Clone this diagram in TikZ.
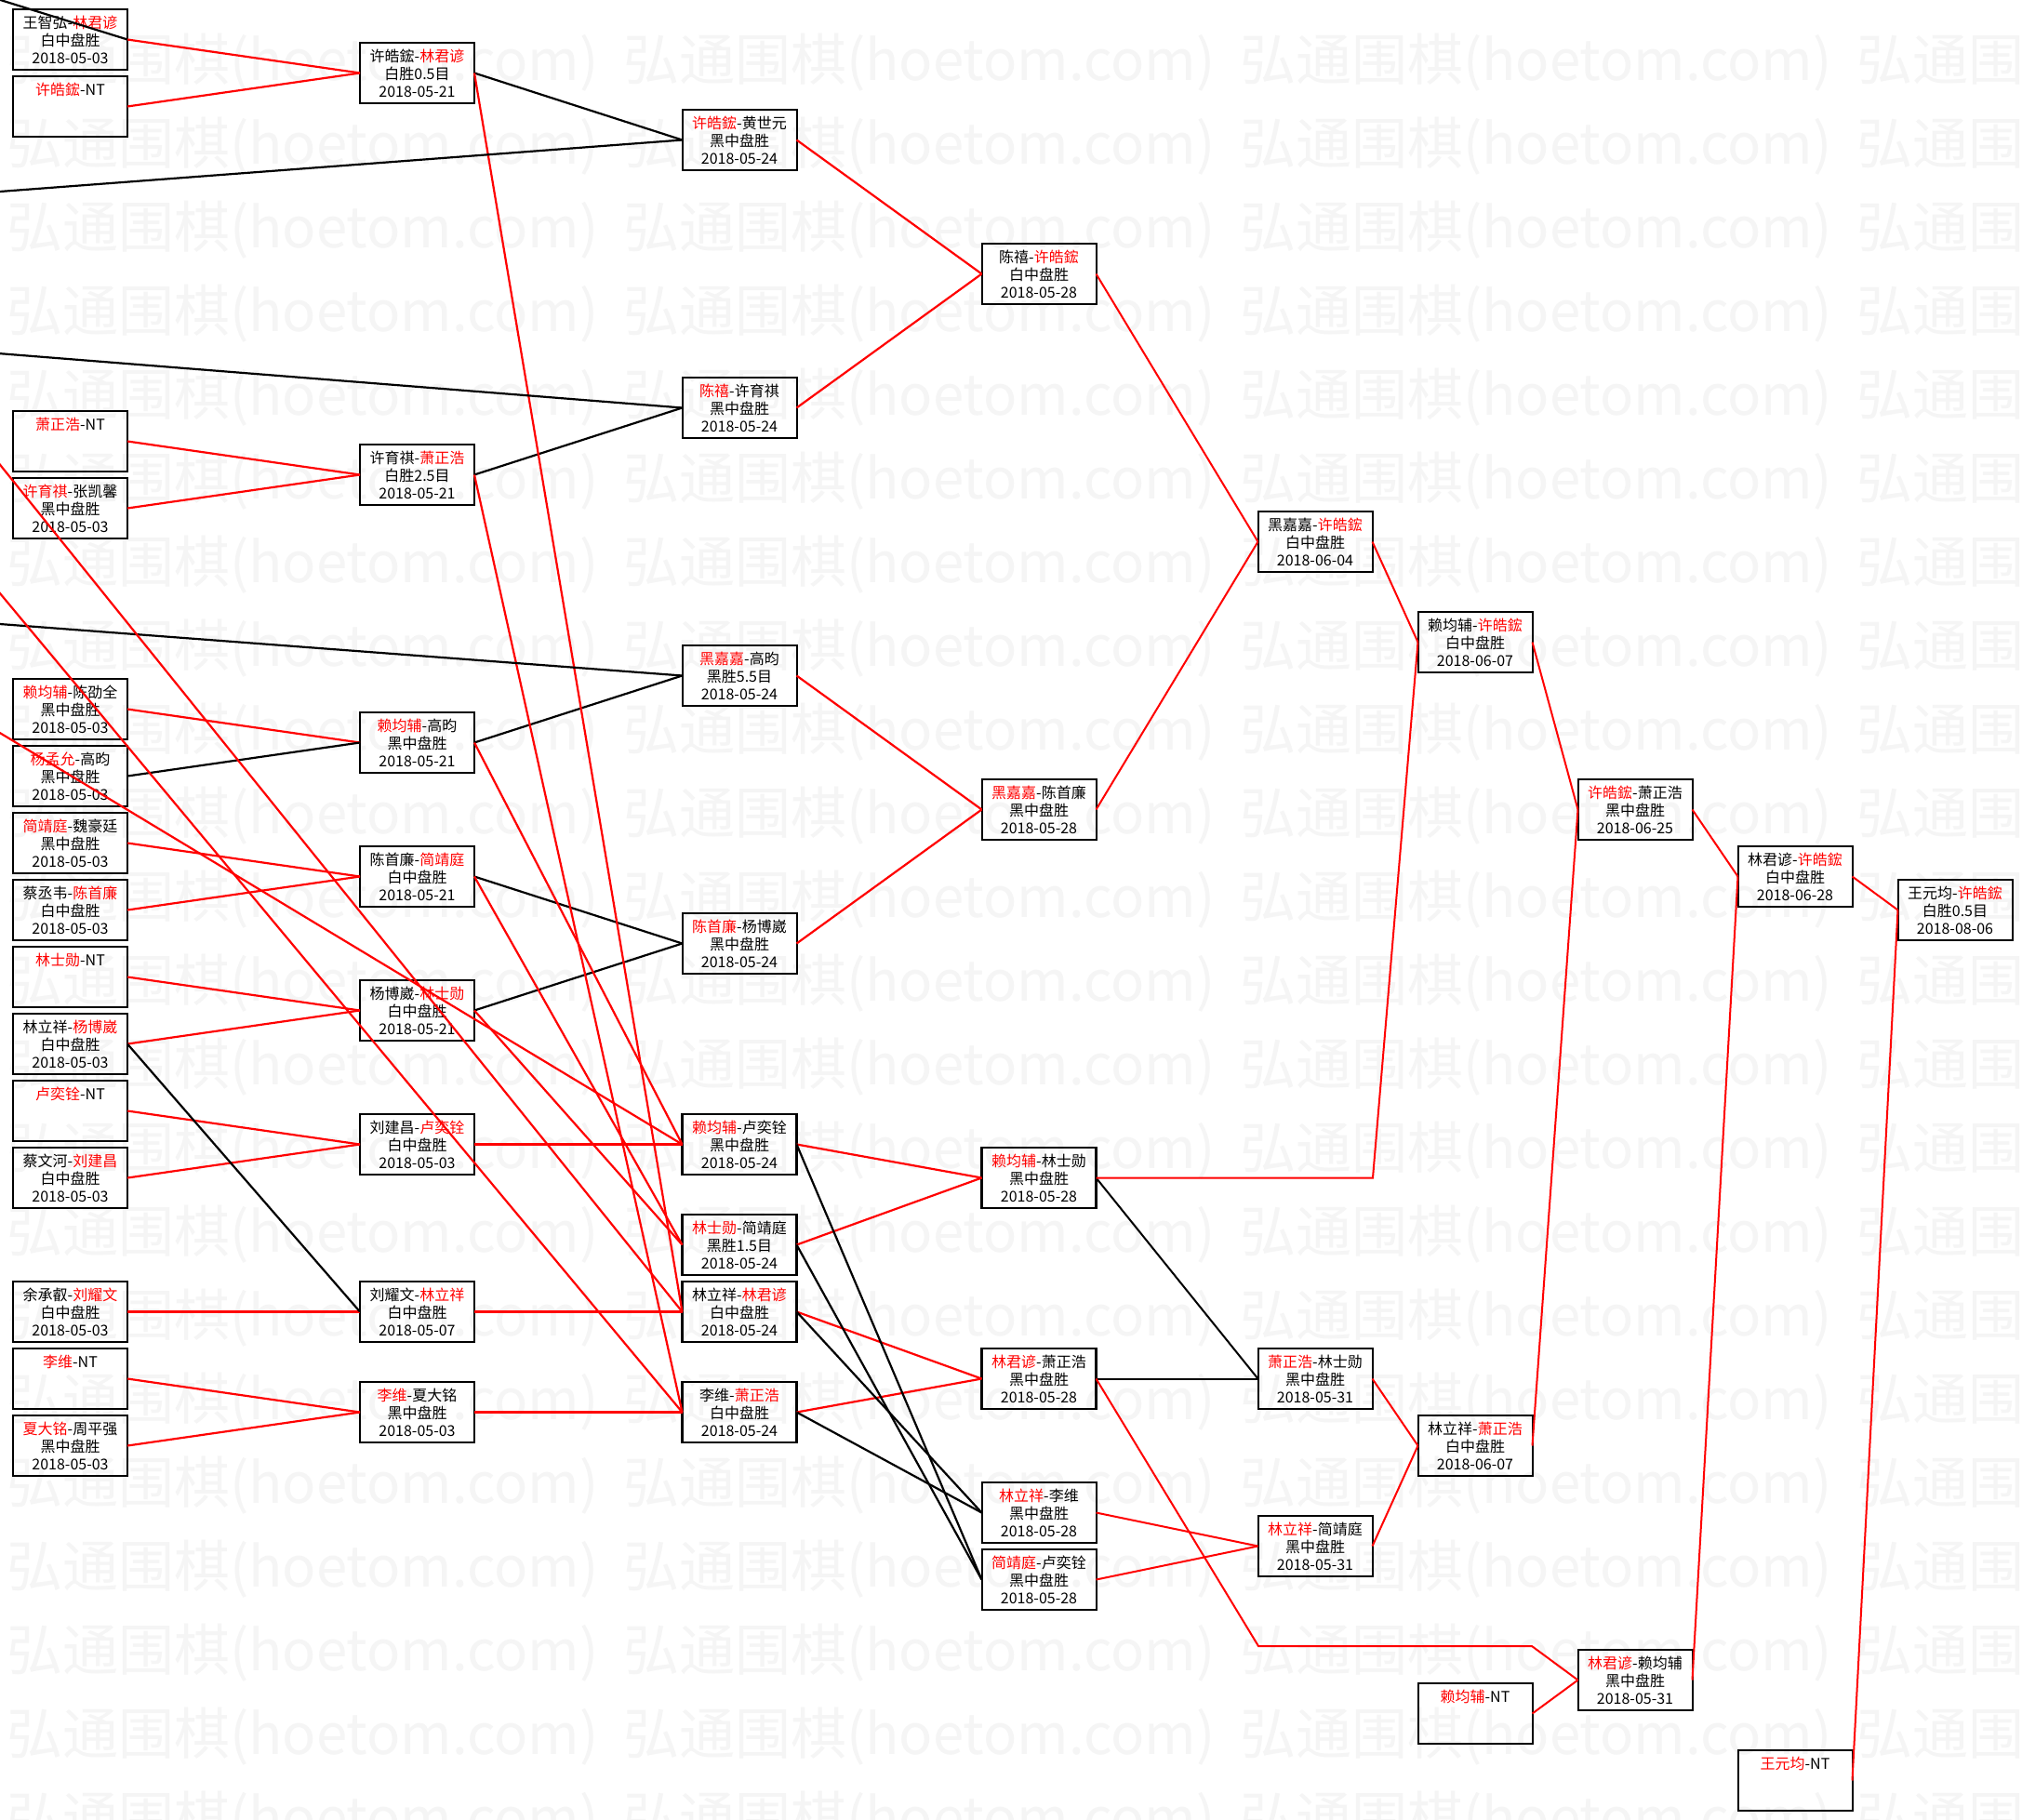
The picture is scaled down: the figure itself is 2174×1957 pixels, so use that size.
\documentclass[tikz,border=0pt]{standalone}
\usepackage{fontspec}
\setmainfont{Noto Sans CJK SC}
\definecolor{wred}{RGB}{255,0,0}
\definecolor{wmark}{RGB}{245,245,245}
\newcommand\rn[1]{\textcolor{wred}{#1}}
\newcommand\ntl{\\\phantom{白}\\\phantom{2}}
\begin{document}
\begin{tikzpicture}[x=1pt,y=-1pt,
  gbox/.style={draw, line width=2.8pt, minimum width=123pt, minimum height=65pt,
    inner sep=0pt, outer sep=0pt, align=center, font=\fontsize{16}{19}\selectfont},
  gthin/.style={gbox, line width=2pt},
  rl/.style={draw=wred, line width=2.2pt},
  bl/.style={draw=black, line width=2.2pt},
  wm/.style={text=wmark, font=\fontsize{60}{60}\selectfont, inner sep=0pt, anchor=west}]
\useasboundingbox (0,0) rectangle (2174,1957);
\fill[white] (0,0) rectangle (2174,1957);
\clip (0,0) rectangle (2174,1957);
% watermark
\foreach \j in {0,...,3}{\foreach \k in {0,...,21}{
  \node[wm] (wm-\j-\k) at ({7+663*\j},{67+90*\k}) {弘通围棋(hoetom.com)};}}
% column 1
\node[gbox] (a1) at (75.5,42.5) {王智弘-\rn{林君谚}\\白中盘胜\\2018-05-03};
\node[gbox] (a2) at (75.5,114.5) {\rn{许皓鋐}-NT\ntl};
\node[gbox] (a3) at (75.5,474.5) {\rn{萧正浩}-NT\ntl};
\node[gbox] (a4) at (75.5,546.5) {\rn{许育祺}-张凯馨\\黑中盘胜\\2018-05-03};
\node[gbox] (a5) at (75.5,762.5) {\rn{赖均辅}-陈劭全\\黑中盘胜\\2018-05-03};
\node[gbox] (a6) at (75.5,834.5) {\rn{杨孟允}-高昀\\黑中盘胜\\2018-05-03};
\node[gbox] (a7) at (75.5,906.5) {\rn{简靖庭}-魏豪廷\\黑中盘胜\\2018-05-03};
\node[gbox] (a8) at (75.5,978.5) {蔡丞韦-\rn{陈首廉}\\白中盘胜\\2018-05-03};
\node[gbox] (a9) at (75.5,1050.5) {\rn{林士勋}-NT\ntl};
\node[gbox] (a10) at (75.5,1122.5) {林立祥-\rn{杨博崴}\\白中盘胜\\2018-05-03};
\node[gbox] (a11) at (75.5,1194.5) {\rn{卢奕铨}-NT\ntl};
\node[gbox] (a12) at (75.5,1266.5) {蔡文河-\rn{刘建昌}\\白中盘胜\\2018-05-03};
\node[gbox] (a13) at (75.5,1410.5) {余承叡-\rn{刘耀文}\\白中盘胜\\2018-05-03};
\node[gbox] (a14) at (75.5,1482.5) {\rn{李维}-NT\ntl};
\node[gbox] (a15) at (75.5,1554.5) {\rn{夏大铭}-周平强\\黑中盘胜\\2018-05-03};
% column 2
\node[gbox] (b1) at (448.5,78.5) {许皓鋐-\rn{林君谚}\\白胜0.5目\\2018-05-21};
\node[gbox] (b2) at (448.5,510.5) {许育祺-\rn{萧正浩}\\白胜2.5目\\2018-05-21};
\node[gbox] (b3) at (448.5,798.5) {\rn{赖均辅}-高昀\\黑中盘胜\\2018-05-21};
\node[gbox] (b4) at (448.5,942.5) {陈首廉-\rn{简靖庭}\\白中盘胜\\2018-05-21};
\node[gbox] (b5) at (448.5,1086.5) {杨博崴-\rn{林士勋}\\白中盘胜\\2018-05-21};
\node[gbox] (b6) at (448.5,1230.5) {刘建昌-\rn{卢奕铨}\\白中盘胜\\2018-05-03};
\node[gbox] (b7) at (448.5,1410.5) {刘耀文-\rn{林立祥}\\白中盘胜\\2018-05-07};
\node[gbox] (b8) at (448.5,1518.5) {\rn{李维}-夏大铭\\黑中盘胜\\2018-05-03};
% column 3
\node[gthin] (c1) at (795,150.5) {\rn{许皓鋐}-黄世元\\黑中盘胜\\2018-05-24};
\node[gthin] (c2) at (795,438.5) {\rn{陈禧}-许育祺\\黑中盘胜\\2018-05-24};
\node[gthin] (c3) at (795,726.5) {\rn{黑嘉嘉}-高昀\\黑胜5.5目\\2018-05-24};
\node[gthin] (c4) at (795,1014.5) {\rn{陈首廉}-杨博崴\\黑中盘胜\\2018-05-24};
\node[gbox] (c5) at (795,1230.5) {\rn{赖均辅}-卢奕铨\\黑中盘胜\\2018-05-24};
\node[gbox] (c6) at (795,1338.5) {\rn{林士勋}-简靖庭\\黑胜1.5目\\2018-05-24};
\node[gbox] (c7) at (795,1410.5) {林立祥-\rn{林君谚}\\白中盘胜\\2018-05-24};
\node[gbox] (c8) at (795,1518.5) {李维-\rn{萧正浩}\\白中盘胜\\2018-05-24};
% column 4
\node[gthin] (d1) at (1117,294.5) {陈禧-\rn{许皓鋐}\\白中盘胜\\2018-05-28};
\node[gthin] (d2) at (1117,870.5) {\rn{黑嘉嘉}-陈首廉\\黑中盘胜\\2018-05-28};
\node[gbox] (d3) at (1117,1266.5) {\rn{赖均辅}-林士勋\\黑中盘胜\\2018-05-28};
\node[gbox] (d4) at (1117,1482.5) {\rn{林君谚}-萧正浩\\黑中盘胜\\2018-05-28};
\node[gthin] (d5) at (1117,1626.5) {\rn{林立祥}-李维\\黑中盘胜\\2018-05-28};
\node[gthin] (d6) at (1117,1698.5) {\rn{简靖庭}-卢奕铨\\黑中盘胜\\2018-05-28};
% column 5
\node[gthin] (e1) at (1414,582.5) {黑嘉嘉-\rn{许皓鋐}\\白中盘胜\\2018-06-04};
\node[gthin] (e2) at (1414,1482.5) {\rn{萧正浩}-林士勋\\黑中盘胜\\2018-05-31};
\node[gthin] (e3) at (1414,1662.5) {\rn{林立祥}-简靖庭\\黑中盘胜\\2018-05-31};
% column 6
\node[gthin] (f1) at (1586,690.5) {赖均辅-\rn{许皓鋐}\\白中盘胜\\2018-06-07};
\node[gthin] (f2) at (1586,1554.5) {林立祥-\rn{萧正浩}\\白中盘胜\\2018-06-07};
\node[gthin] (f3) at (1586,1842.5) {\rn{赖均辅}-NT\ntl};
% column 7
\node[gthin] (g1) at (1758,870.5) {\rn{许皓鋐}-萧正浩\\黑中盘胜\\2018-06-25};
\node[gthin] (g2) at (1758,1806.5) {\rn{林君谚}-赖均辅\\黑中盘胜\\2018-05-31};
% column 8
\node[gthin] (h1) at (1930,942.5) {林君谚-\rn{许皓鋐}\\白中盘胜\\2018-06-28};
\node[gthin] (h2) at (1930,1914.5) {\rn{王元均}-NT\ntl};
% column 9
\node[gthin] (i1) at (2102,978.5) {王元均-\rn{许皓鋐}\\白胜0.5目\\2018-08-06};
% off-picture ends
\coordinate (o0) at (-40,-12.6);
\coordinate (o1) at (-40,209);
\coordinate (o2) at (-40,377);
\coordinate (o3) at (-40,668);
\coordinate (o4) at (-40,450);
\coordinate (o6) at (-40,590);
\coordinate (o7) at (-40,764);
\coordinate (v1) at (1476,1266.5);
\coordinate (v2) at (1353,1770);
\coordinate (v3) at (1647,1770);
% connectors col1 -> col2
\foreach \s/\t in {a1/b1,a2/b1,a3/b2,a4/b2,a5/b3,a7/b4,a8/b4,a9/b5,a10/b5,a11/b6,a12/b6,a13/b7,a14/b8,a15/b8}
  {\draw[rl] (\s.east) -- (\t.west);}
\foreach \s/\t in {a6/b3,a10/b7}
  {\draw[bl] (\s.east) -- (\t.west);}
% col2 -> col3
\foreach \s/\t in {b1/c1,b2/c2,b3/c3,b4/c4,b5/c4}
  {\draw[bl] (\s.east) -- (\t.west);}
\foreach \s/\t in {b1/c7,b2/c8,b3/c5,b4/c6,b5/c6,b6/c5,b7/c7,b8/c8}
  {\draw[rl] (\s.east) -- (\t.west);}
% from outside the picture
\draw[bl] (o0) -- (a1.east);
\draw[bl] (o1) -- (c1.west);
\draw[bl] (o2) -- (c2.west);
\draw[bl] (o3) -- (c3.west);
\draw[rl] (o4) -- (c7.west);
\draw[rl] (o6) -- (c8.west);
\draw[rl] (o7) -- (c5.west);
% col3 -> col4
\foreach \s/\t in {c1/d1,c2/d1,c3/d2,c4/d2,c5/d3,c6/d3,c7/d4,c8/d4}
  {\draw[rl] (\s.east) -- (\t.west);}
\foreach \s/\t in {c5/d6,c6/d6,c7/d5,c8/d5}
  {\draw[bl] (\s.east) -- (\t.west);}
% col4 -> col5 and beyond
\foreach \s/\t in {d1/e1,d2/e1,d5/e3,d6/e3,e1/f1,e2/f2,e3/f2,f1/g1,f2/g1,f3/g2,g1/h1,g2/h1,h1/i1,h2/i1}
  {\draw[rl, line width=2pt] (\s.east) -- (\t.west);}
\foreach \s/\t in {d3/e2,d4/e2}
  {\draw[bl, line width=2pt] (\s.east) -- (\t.west);}
\draw[rl, line width=2pt] (d3.east) -- (v1) -- (f1.west);
\draw[rl, line width=2pt] (d4.east) -- (v2) -- (v3) -- (g2.west);
\end{tikzpicture}
\end{document}
